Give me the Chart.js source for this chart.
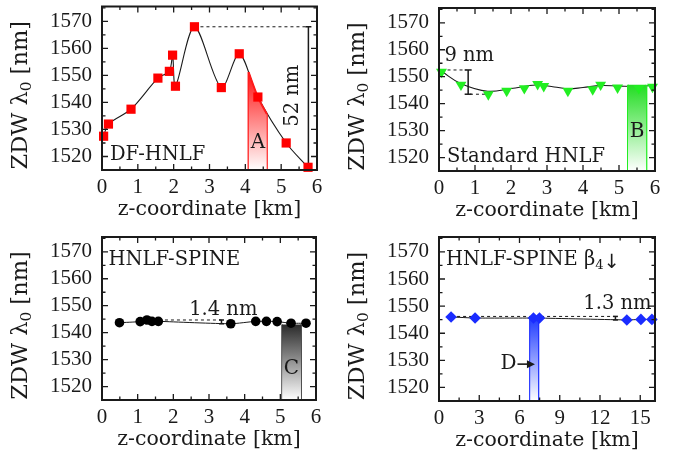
<!DOCTYPE html>
<html><head><meta charset="utf-8">
<script src="https://cdn.jsdelivr.net/npm/chart.js@4.4.1/dist/chart.umd.min.js"></script>
<style>
html,body{margin:0;padding:0;background:#fff;}
#wrap{position:relative;width:679px;height:455px;overflow:hidden;background:#fff;}
canvas{position:absolute;}
</style></head><body>
<div id="wrap">
<canvas id="c1" width="340" height="228" style="left:0;top:0"></canvas>
<canvas id="c2" width="339" height="228" style="left:340px;top:0"></canvas>
<canvas id="c3" width="340" height="227" style="left:0;top:228px"></canvas>
<canvas id="c4" width="339" height="227" style="left:340px;top:228px"></canvas>
</div>
<script>
// ---------------- data ----------------
const yTicks = [1520, 1530, 1540, 1550, 1560, 1570];
const yMinorTicks = [1515, 1525, 1535, 1545, 1555, 1565, 1575];
const xTicks6 = [0, 1, 2, 3, 4, 5, 6];
const xMinor6 = [0.5, 1.5, 2.5, 3.5, 4.5, 5.5];
const xTicks16 = [0, 3, 6, 9, 12, 15];
const xMinor16 = [1.5, 4.5, 7.5, 10.5, 13.5];

// DF-HNLF
const dfX = [0.045, 0.18, 0.81, 1.56, 1.88, 1.97, 2.05, 2.58, 3.33, 3.83, 4.35, 5.14, 5.75];
const dfY = [1527.5, 1532, 1537.5, 1549, 1551.5, 1557.5, 1546, 1568, 1545.5, 1558, 1542, 1525, 1516];
const dfAreaX = [4.09, 4.35, 4.6];
const dfAreaY = [1551.2, 1542, 1535.7];
const dfSpread = [1568, 1516];           // 52 nm
const dfSpreadX = 5.76;

// Standard HNLF
const stdX = [0.07, 0.61, 1.37, 1.88, 2.37, 2.74, 2.91, 3.58, 4.27, 4.49, 4.96, 5.55, 5.93];
const stdY = [1551.8, 1547, 1543.4, 1544.7, 1545.7, 1547.2, 1546.5, 1544.7, 1545.3, 1547, 1545.9, 1545.7, 1546.2];
const stdFitX = [0.07, 0.6, 1.35, 2.0, 2.7, 3.2, 3.6, 4.0, 4.5, 5.0, 5.5, 6.0];
const stdFitY = [1552, 1547.5, 1544.6, 1545.6, 1546.9, 1546.2, 1545.5, 1546.0, 1546.7, 1546.5, 1546.4, 1546.8];
const stdBarX = [5.25, 5.76];
const stdBarY = 1547;
const stdSpread = [1552.5, 1543.5];      // 9 nm
const stdSpreadX = 0.81;

// HNLF-SPINE
const spX = [0.49, 1.07, 1.26, 1.40, 1.58, 3.61, 4.31, 4.61, 4.91, 5.30, 5.72];
const spY = [1543.7, 1544.1, 1544.7, 1544.2, 1544.2, 1543.3, 1544.2, 1544.2, 1544.1, 1543.5, 1543.5];
const spBarX = [5.05, 5.58];
const spBarY = 1543;
const spSpread = [1544.7, 1543.3];       // 1.4 nm
const spSpreadX = 3.35;

// HNLF-SPINE beta4
const b4X = [0.9, 2.69, 7.04, 7.49, 14.0, 15.05, 15.87];
const b4Y = [1546.0, 1545.6, 1545.6, 1545.6, 1544.9, 1545.1, 1545.1];
const b4BarX = [6.79, 7.4];
const b4BarY = 1545.8;
const b4Spread = [1546.2, 1544.9];       // 1.3 nm
const b4SpreadX = 13.15;

const Y_MIN = 1515, Y_MAX = 1575.5;

// ---------------- helpers ----------------
const SERIF = '"DejaVu Serif", serif';
const TICKF = '"Liberation Serif", serif';
const INK = '#1a1a1a';

function P(xs, ys) { return xs.map((x, i) => ({ x: x, y: Array.isArray(ys) ? ys[i] : ys })); }

function grad(color, topVal) {
  return (c) => {
    const ch = c.chart, a = ch.chartArea;
    if (!a) return color;
    const t = ch.scales.y.getPixelForValue(topVal);
    const g = ch.ctx.createLinearGradient(0, t, 0, a.bottom);
    g.addColorStop(0, color);
    g.addColorStop(1, '#ffffff');
    return g;
  };
}

function lineDS(data, color, width, extra) {
  return Object.assign({ data: data, showLine: true, borderColor: color, borderWidth: width,
    pointRadius: 0, fill: false, tension: 0 }, extra || {});
}
function spreadDS(x, pair, capR) {
  return { data: [{ x: x, y: pair[0] }, { x: x, y: pair[1] }], showLine: true, borderColor: INK,
    borderWidth: 1.5, pointStyle: 'line', pointRadius: capR, pointBorderWidth: 1.5,
    pointBorderColor: INK, pointBackgroundColor: INK, fill: false, clip: false };
}
function barDS(xs, top, color) {
  return { data: P(xs, top), showLine: true, borderWidth: 0, borderColor: 'rgba(0,0,0,0)',
    pointRadius: 0, fill: 'start', backgroundColor: grad(color, top) };
}
function edgeDS(x, top, color, w) {
  return lineDS([{ x: x, y: Y_MIN }, { x: x, y: top }], color, w);
}

function drawRich(ctx, parts, x, y, align, size, rot) {
  ctx.save();
  ctx.translate(x, y);
  if (rot) ctx.rotate(rot);
  ctx.textBaseline = 'middle';
  ctx.textAlign = 'left';
  const items = parts.map(p => {
    const s = p.sub ? size * 0.68 : (p.scale ? size * p.scale : size);
    const fam = p.family || SERIF;
    ctx.font = s + 'px ' + fam;
    return { t: p.t, s: s, fam: fam, w: ctx.measureText(p.t).width, dy: p.sub ? size * 0.28 : (p.dy || 0) };
  });
  const total = items.reduce((a, b) => a + b.w, 0);
  let cx = align === 'center' ? -total / 2 : (align === 'right' ? -total : 0);
  ctx.fillStyle = INK;
  items.forEach(it => {
    ctx.font = it.s + 'px ' + it.fam;
    ctx.fillText(it.t, cx, it.dy);
    cx += it.w;
  });
  ctx.restore();
}

const deco = {
  id: 'deco',
  afterDatasetsDraw(chart, args, o) {
    const ctx = chart.ctx, a = chart.chartArea, sx = chart.scales.x, sy = chart.scales.y;
    ctx.save();
    ctx.strokeStyle = INK;
    ctx.lineWidth = 1.3;
    const tick = (vals, len, isX) => {
      vals.forEach(v => {
        ctx.beginPath();
        if (isX) {
          const px = sx.getPixelForValue(v);
          if (px < a.left - 0.5 || px > a.right + 0.5) return;
          ctx.moveTo(px, a.bottom); ctx.lineTo(px, a.bottom - len);
          ctx.moveTo(px, a.top); ctx.lineTo(px, a.top + len);
        } else {
          const py = sy.getPixelForValue(v);
          if (py < a.top - 0.5 || py > a.bottom + 0.5) return;
          ctx.moveTo(a.left, py); ctx.lineTo(a.left + len, py);
          ctx.moveTo(a.right, py); ctx.lineTo(a.right - len, py);
        }
        ctx.stroke();
      });
    };
    tick(o.xMajor, 6, true); tick(o.xMinor, 3.5, true);
    tick(yTicks, 6, false); tick(yMinorTicks, 3.5, false);
    ctx.lineWidth = 2;
    ctx.strokeRect(a.left, a.top, a.right - a.left, a.bottom - a.top);
    (o.texts || []).forEach(t => {
      drawRich(ctx, t.parts, sx.getPixelForValue(t.x), sy.getPixelForValue(t.y), t.align || 'left', t.size || 19.5, t.rot || 0);
    });
    (o.arrows || []).forEach(ar => {
      const x0 = sx.getPixelForValue(ar.x0), x1 = sx.getPixelForValue(ar.x1), py = sy.getPixelForValue(ar.y);
      ctx.fillStyle = INK; ctx.lineWidth = 1.6;
      ctx.beginPath(); ctx.moveTo(x0, py); ctx.lineTo(x1 - 5, py); ctx.stroke();
      ctx.beginPath(); ctx.moveTo(x1, py); ctx.lineTo(x1 - 8, py - 4); ctx.lineTo(x1 - 8, py + 4); ctx.closePath(); ctx.fill();
    });
    drawRich(ctx, [{ t: 'z-coordinate [km]' }], (a.left + a.right) / 2, a.bottom + 40, 'center', 20.5);
    drawRich(ctx, [{ t: 'ZDW λ' }, { t: '0', sub: true }, { t: ' [nm]' }], a.left - 81, (a.top + a.bottom) / 2 + 7, 'center', 22.5, -Math.PI / 2);
    ctx.restore();
  }
};

function makeChart(id, cfg) {
  const cv = document.getElementById(id);
  const W = cv.width, H = cv.height, p = cfg.plot;
  const zero = s => { s.paddingLeft = 0; s.paddingRight = 0; s.paddingTop = 0; s.paddingBottom = 0; };
  const fmt = v => String(v);
  return new Chart(cv, {
    type: 'scatter',
    data: { datasets: cfg.datasets },
    options: {
      responsive: false, animation: false, devicePixelRatio: 1,
      layout: { padding: { left: 0, top: p.top, right: W - p.right, bottom: 0 } },
      plugins: { legend: { display: false }, tooltip: { enabled: false }, deco: cfg.deco },
      scales: {
        x: {
          type: 'linear', min: cfg.xMin, max: cfg.xMax,
          afterBuildTicks: s => { s.ticks = cfg.xTicks.map(v => ({ value: v })); },
          afterFit: s => { s.height = H - p.bottom; zero(s); },
          grid: { display: false, drawTicks: false }, border: { display: false },
          ticks: { font: { family: TICKF, size: 21 }, color: INK, padding: 5, maxRotation: 0, autoSkip: false, callback: fmt }
        },
        y: {
          type: 'linear', min: Y_MIN, max: Y_MAX,
          afterBuildTicks: s => { s.ticks = yTicks.map(v => ({ value: v })); },
          afterFit: s => { s.width = p.left; zero(s); },
          grid: { display: false, drawTicks: false }, border: { display: false },
          ticks: { font: { family: TICKF, size: 21 }, color: INK, padding: 10, autoSkip: false, callback: fmt }
        }
      }
    },
    plugins: [deco]
  });
}

// ---------------- panel 1 ----------------
makeChart('c1', {
  plot: { left: 102, right: 317, top: 6, bottom: 170 },
  xMin: 0, xMax: 6, xTicks: xTicks6,
  deco: {
    xMajor: xTicks6, xMinor: xMinor6,
    texts: [
      { parts: [{ t: 'DF-HNLF' }], x: 0.22, y: 1520.4 },
      { parts: [{ t: 'A' }], x: 4.35, y: 1525, align: 'center', size: 20 },
      { parts: [{ t: '52 nm' }], x: 5.33, y: 1542.5, align: 'center', rot: -Math.PI / 2 }
    ]
  },
  datasets: [
    { data: P(dfX, dfY), showLine: false, pointStyle: 'rect', pointRadius: 6.5,
      pointBackgroundColor: '#ff0000', pointBorderColor: '#ff0000', pointBorderWidth: 0, clip: false },
    { data: P(dfAreaX, dfAreaY), showLine: true, borderColor: '#ff1a1a', borderWidth: 2,
      pointRadius: 0, fill: 'start', tension: 0.3, backgroundColor: grad('#ff1010', dfAreaY[0]) },
    edgeDS(dfAreaX[0], dfAreaY[0], '#ff1a1a', 2),
    edgeDS(dfAreaX[dfAreaX.length - 1], dfAreaY[dfAreaY.length - 1], '#ff1a1a', 2),
    lineDS(P(dfX, dfY), INK, 1.1, { tension: 0.3 }),
    lineDS([{ x: dfX[7], y: dfSpread[0] }, { x: dfSpreadX, y: dfSpread[0] }], INK, 1, { borderDash: [3, 3] }),
    spreadDS(dfSpreadX, dfSpread, 3)
  ]
});

// ---------------- panel 2 ----------------
makeChart('c2', {
  plot: { left: 99, right: 315, top: 8, bottom: 171 },
  xMin: 0, xMax: 6, xTicks: xTicks6,
  deco: {
    xMajor: xTicks6, xMinor: xMinor6,
    texts: [
      { parts: [{ t: 'Standard HNLF' }], x: 0.22, y: 1520.4 },
      { parts: [{ t: 'B' }], x: 5.5, y: 1529.4, align: 'center', size: 20 },
      { parts: [{ t: '9 nm' }], x: 0.84, y: 1557.7, align: 'center' }
    ]
  },
  datasets: [
    { data: P(stdX, stdY), showLine: false, pointStyle: 'triangle', rotation: 180, pointRadius: 6.3,
      pointBackgroundColor: '#22ee22', pointBorderColor: '#22ee22', pointBorderWidth: 0, clip: false },
    barDS(stdBarX, stdBarY, '#22dd22'),
    edgeDS(stdBarX[0], stdBarY, '#22ee22', 2),
    edgeDS(stdBarX[1], stdBarY, '#22ee22', 2),
    lineDS(P(stdFitX, stdFitY), INK, 1.1, { tension: 0.4 }),
    lineDS([{ x: stdX[0], y: stdSpread[0] }, { x: stdSpreadX - 0.05, y: stdSpread[0] }], INK, 1, { borderDash: [3, 3] }),
    lineDS([{ x: stdSpreadX + 0.05, y: stdSpread[1] }, { x: stdX[2], y: stdSpread[1] }], INK, 1, { borderDash: [3, 3] }),
    spreadDS(stdSpreadX, stdSpread, 3.5)
  ]
});

// ---------------- panel 3 ----------------
makeChart('c3', {
  plot: { left: 102, right: 316, top: 9, bottom: 172 },
  xMin: 0, xMax: 6, xTicks: xTicks6,
  deco: {
    xMajor: xTicks6, xMinor: xMinor6,
    texts: [
      { parts: [{ t: 'HNLF-SPINE' }], x: 0.18, y: 1566.9 },
      { parts: [{ t: 'C' }], x: 5.31, y: 1526.5, align: 'center', size: 20 },
      { parts: [{ t: '1.4 nm' }], x: 3.4, y: 1548.6, align: 'center' }
    ]
  },
  datasets: [
    { data: P(spX, spY), showLine: false, pointStyle: 'circle', pointRadius: 4.8,
      pointBackgroundColor: '#000000', pointBorderColor: '#000000', pointBorderWidth: 0, clip: false },
    barDS(spBarX, spBarY, '#2a2a2a'),
    edgeDS(spBarX[0], spBarY, INK, 1.5),
    edgeDS(spBarX[1], spBarY, INK, 1.5),
    lineDS(P(spX, spY), INK, 1, { tension: 0.2 }),
    lineDS([{ x: spX[2], y: spSpread[0] }, { x: spSpreadX, y: spSpread[0] }], INK, 1, { borderDash: [3, 3] }),
    spreadDS(spSpreadX, spSpread, 2.5)
  ]
});

// ---------------- panel 4 ----------------
makeChart('c4', {
  plot: { left: 99, right: 315, top: 9, bottom: 173 },
  xMin: 0, xMax: 16.1, xTicks: xTicks16,
  deco: {
    xMajor: xTicks16, xMinor: xMinor16,
    texts: [
      { parts: [{ t: 'HNLF-SPINE β' }, { t: '4', sub: true }, { t: '↓', family: '"DejaVu Sans", sans-serif', scale: 1.0, dy: 3 }], x: 0.52, y: 1567 },
      { parts: [{ t: 'D' }], x: 5.18, y: 1528.6, align: 'center', size: 20 },
      { parts: [{ t: '1.3 nm' }], x: 13.3, y: 1550.9, align: 'center' }
    ],
    arrows: [{ x0: 5.85, x1: 7.15, y: 1528.6 }]
  },
  datasets: [
    { data: P(b4X, b4Y), showLine: false, pointStyle: 'rectRot', pointRadius: 5.8,
      pointBackgroundColor: '#1a2cff', pointBorderColor: '#1a2cff', pointBorderWidth: 0, clip: false },
    barDS(b4BarX, b4BarY, '#1f3bff'),
    edgeDS(b4BarX[0], b4BarY, '#1a2cff', 2),
    edgeDS(b4BarX[1], b4BarY, '#1a2cff', 2),
    lineDS(P(b4X, b4Y), INK, 1, { tension: 0.1 }),
    lineDS([{ x: b4X[0], y: b4Spread[0] }, { x: b4SpreadX, y: b4Spread[0] }], INK, 1, { borderDash: [3, 3] }),
    spreadDS(b4SpreadX, b4Spread, 2.5)
  ]
});
</script>
</body></html>
